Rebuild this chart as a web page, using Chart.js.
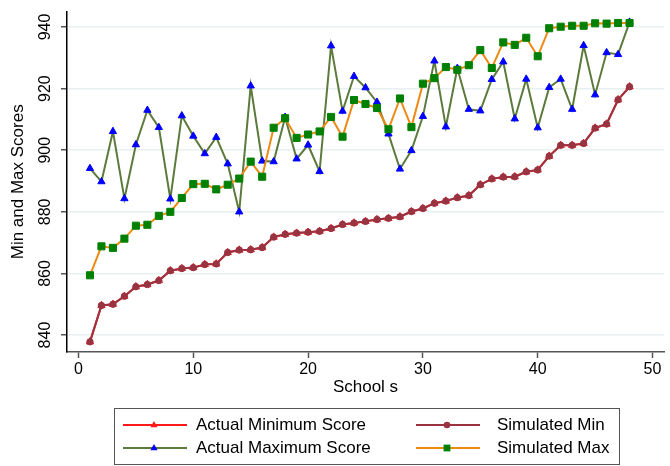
<!DOCTYPE html>
<html>
<head>
<meta charset="utf-8">
<script src="https://cdn.jsdelivr.net/npm/chart.js@4.4.1/dist/chart.umd.min.js"></script>
<style>
  html, body { margin: 0; padding: 0; background: #fff; }
  #wrap { position: relative; width: 670px; height: 466px; font-family: 'Liberation Sans', Arial, sans-serif; }
  #legend { position: absolute; left: 114px; top: 408px; width: 506px; height: 57px; box-sizing: border-box; border: 1px solid #555; }
  .item { position: absolute; height: 20px; }
  .item svg { position: absolute; left: 0; top: 4px; }
  .item span { position: absolute; top: 0; white-space: nowrap; font-size: 17px; line-height: 20px; color: #000; }
</style>
</head>
<body>
<div id="wrap">
  <canvas id="c"></canvas>
  <div id="legend"></div>
</div>
<script>
// Dados
const schools = [1, 2, 3, 4, 5, 6, 7, 8, 9, 10, 11, 12, 13, 14, 15, 16, 17, 18, 19, 20, 21, 22, 23, 24,
                 25, 26, 27, 28, 29, 30, 31, 32, 33, 34, 35, 36, 37, 38, 39, 40, 41, 42, 43, 44, 45, 46, 47, 48];

const simMin = [837.8, 849.6, 850.0, 852.6, 855.7, 856.4, 857.7, 860.9, 861.6, 861.9, 862.9, 863.1,
                866.8, 867.6, 867.7, 868.4, 871.8, 872.7, 873.1, 873.4, 873.7, 874.6, 875.9, 876.4,
                876.9, 877.5, 877.9, 878.4, 880.1, 881.1, 882.8, 883.5, 884.6, 885.3, 888.8, 890.7,
                891.3, 891.4, 893.0, 893.6, 898.1, 901.6, 901.6, 902.2, 907.2, 908.5, 916.4, 920.6];

// o mínimo real fica escondido atrás do simulado
const actualMin = [837.8, 849.6, 850.0, 852.6, 855.7, 856.4, 857.7, 860.9, 861.6, 861.9, 862.9, 863.1,
                   866.8, 867.6, 867.7, 868.4, 871.8, 872.7, 873.1, 873.4, 873.7, 874.6, 875.9, 876.4,
                   876.9, 877.5, 877.9, 878.4, 880.1, 881.1, 882.8, 883.5, 884.6, 885.3, 888.8, 890.7,
                   891.3, 891.4, 893.0, 893.6, 898.1, 901.6, 901.6, 902.2, 907.2, 908.5, 916.4, 920.6];

const actualMax = [894.1, 889.8, 906.1, 884.3, 901.8, 913.0, 907.4, 884.2, 911.2, 904.6, 898.9, 904.2,
                   895.6, 880.0, 920.9, 896.5, 896.3, 910.7, 897.2, 901.7, 893.1, 933.9, 912.7, 924.0,
                   920.3, 915.6, 905.3, 893.9, 899.9, 911.0, 929.0, 907.6, 926.6, 913.3, 912.8, 923.0,
                   928.7, 910.2, 923.1, 907.3, 920.4, 923.1, 913.3, 934.0, 918.0, 931.7, 931.1, 941.6];

const simMax = [859.4, 868.8, 868.3, 871.3, 875.5, 875.8, 878.7, 880.0, 884.5, 889.0, 889.1, 887.3,
                888.8, 890.8, 896.3, 891.4, 907.3, 910.4, 904.0, 905.1, 906.1, 910.8, 904.4, 916.3,
                915.0, 913.7, 906.8, 916.8, 907.5, 921.6, 923.4, 927.0, 926.1, 927.6, 932.5, 926.7,
                935.0, 934.2, 936.5, 930.5, 939.6, 940.1, 940.4, 940.4, 941.2, 941.1, 941.3, 941.3];

const xTicks = [0, 10, 20, 30, 40, 50];
const yTicks = [840, 860, 880, 900, 920, 940];

const labels = ['Actual Minimum Score', 'Simulated Min', 'Actual Maximum Score', 'Simulated Max'];

const FONT = "'Liberation Sans', Arial, sans-serif";
Chart.defaults.font.family = FONT;
Chart.defaults.color = '#000';

function pts(values) {
    return schools.map((s, i) => ({ x: s, y: values[i] }));
}

// estilos de cada série (ordem da legenda)
const styles = [
    { line: '#ff1a1a', fill: '#ff1a1a', shape: 'triangle', r: 4.2, order: 4 },
    { line: '#9b3340', fill: '#993341', shape: 'circle', r: 3.2, order: 2 },
    { line: '#5c7a3c', fill: '#0000ff', shape: 'triangle', r: 4.2, order: 3 },
    { line: '#ee8a12', fill: '#008000', shape: 'rect', r: 5, order: 1 }
];
const series = [actualMin, simMin, actualMax, simMax];

const datasets = series.map((vals, i) => ({
    label: labels[i],
    data: pts(vals),
    borderColor: styles[i].line,
    borderWidth: 2,
    backgroundColor: styles[i].fill,
    pointStyle: styles[i].shape,
    pointRadius: styles[i].r,
    pointBackgroundColor: styles[i].fill,
    pointBorderColor: styles[i].fill,
    pointBorderWidth: 1,
    tension: 0,
    order: styles[i].order
}));

new Chart(document.getElementById('c'), {
    type: 'line',
    data: { datasets },
    options: {
        responsive: true,
        maintainAspectRatio: false,
        animation: false,
        layout: { padding: { top: 8, right: 3, left: 0, bottom: 66 } },
        plugins: { legend: { display: false }, tooltip: { enabled: false } },
        scales: {
            x: {
                type: 'linear',
                min: -1,
                max: 51,
                afterBuildTicks: s => { s.ticks = xTicks.map(v => ({ value: v })); },
                afterFit: s => { s.height = 48; },
                border: { color: '#555', width: 1.5 },
                grid: { drawOnChartArea: false, tickLength: 6, tickColor: '#555', tickWidth: 1.5 },
                ticks: { font: { size: 16 }, padding: 2, maxRotation: 0 },
                title: { display: true, text: 'School s', font: { size: 17 }, padding: { top: 0, bottom: 2 } }
            },
            y: {
                min: 834.5,
                max: 945,
                afterBuildTicks: s => { s.ticks = yTicks.map(v => ({ value: v })); },
                afterFit: s => { s.width = 67; },
                border: { color: '#000', width: 1.5 },
                grid: { color: '#e8f0f2', lineWidth: 1.5, tickLength: 6, tickColor: '#555', tickWidth: 1.5 },
                ticks: { font: { size: 16 }, minRotation: 90, maxRotation: 90, crossAlign: 'center', padding: 2 },
                title: { display: true, text: 'Min and Max Scores', font: { size: 17 }, padding: { top: 8, bottom: 0 } }
            }
        }
    }
});

// Legenda em HTML
const legend = document.getElementById('legend');
labels.forEach((lab, i) => {
    const st = styles[i];
    const col = i % 2, row = Math.floor(i / 2);
    const item = document.createElement('div');
    item.className = 'item';
    item.style.left = (col === 0 ? 7 : 300) + 'px';
    item.style.top = (row === 0 ? 6 : 29) + 'px';
    let mark = '';
    if (st.shape === 'triangle') mark = `<polygon points="32,2 35.6,8.3 28.4,8.3" fill="${st.fill}"/>`;
    else if (st.shape === 'circle') mark = `<circle cx="32" cy="6" r="3.3" fill="${st.fill}"/>`;
    else mark = `<rect x="28.6" y="2.6" width="6.8" height="6.8" fill="${st.fill}"/>`;
    item.innerHTML = `<svg width="66" height="12"><line x1="1" y1="6" x2="65" y2="6" stroke="${st.line}" stroke-width="2"/>${mark}</svg>
        <span style="left:${col === 0 ? 74 : 82}px">${lab}</span>`;
    legend.appendChild(item);
});
</script>
</body>
</html>
